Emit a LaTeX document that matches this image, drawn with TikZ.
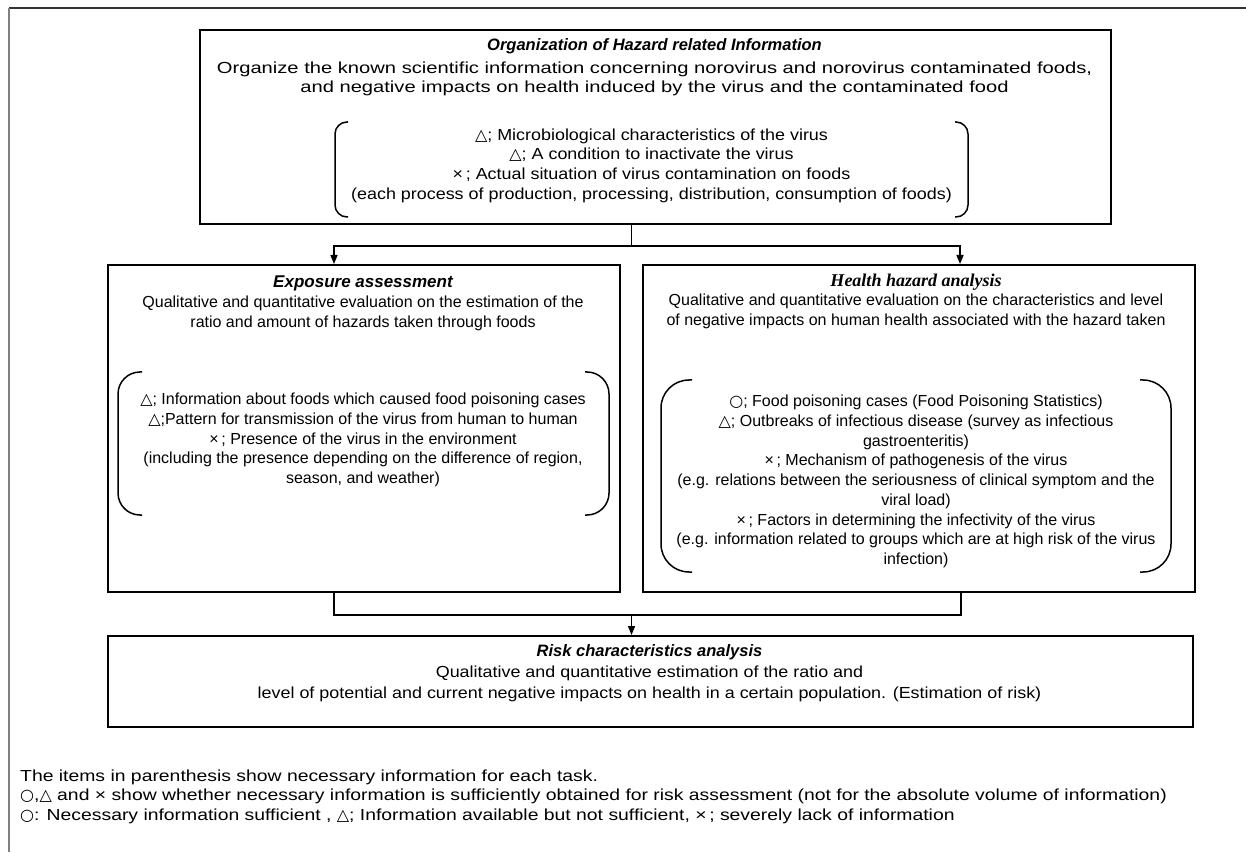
\documentclass[tikz,border=0pt]{standalone}
\usepackage{fontspec}
\setmainfont{Liberation Sans}
\newfontfamily\titleserif{Liberation Serif}
\newfontfamily\wideA[FakeStretch=1.26]{Liberation Sans}
\newfontfamily\wideB[FakeStretch=1.12]{Liberation Sans}
\newfontfamily\wideC[FakeStretch=1.21]{Liberation Sans}
\newfontfamily\symfont{DejaVu Sans}
\usetikzlibrary{arrows.meta, positioning, calc}
\newcommand{\tri}{{\symfont\fontsize{16}{16}\selectfont △}}
\newcommand{\crc}{{\symfont\fontsize{16}{16}\selectfont ○}}
\newcommand{\crs}{×\,}

\begin{document}
\begin{tikzpicture}[
  x=1pt, y=1pt,
  box/.style={draw=black, line width=2pt, inner sep=0pt, anchor=north west},
  ttl/.style={font=\fontsize{16}{18}\selectfont\bfseries\itshape, inner sep=0pt},
  txt/.style={font=\fontsize{16}{19.7}\selectfont, align=center, inner sep=0pt},
  note/.style={font=\wideC\fontsize{16}{20}\selectfont, anchor=west, inner sep=0pt},
  brk/.style={line width=1.5pt},
  lnk/.style={line width=1.5pt},
  arr/.style={lnk, -{Triangle[length=9pt, width=7pt]}}
]
\useasboundingbox (0,0) rectangle (1246,852);
% frame
\draw[line width=1.5pt, black!80] (9,844) -- (1246,844);
\draw[line width=1.5pt, black!50] (9,844) -- (9,0);

% boxes
\node[box, minimum width=911pt, minimum height=194pt] (org) at (199,823) {};
\node[box, minimum width=512pt, minimum height=327pt] (expo) at (107,588) {};
\node[box, minimum width=552pt, minimum height=327pt, right=21pt of expo.north east, anchor=north west] (haz) {};
\node[box, minimum width=1085pt, minimum height=91pt, below=42pt of expo.south west, anchor=north west] (risk) {};

% hazard information
\node[ttl, font=\fontsize{16.5}{18}\selectfont\bfseries\itshape] (orgT) at (654.5,806) {Organization of Hazard related Information};
\node[txt, font=\wideA\fontsize{16}{19.7}\selectfont] (orgD) at (654.5,773) {Organize the known scientific information concerning norovirus and norovirus contaminated foods,\\
  and negative impacts on health induced by the virus and the contaminated food};
\node[txt, font=\wideB\fontsize{16}{19.7}\selectfont] (orgI) at (651.5,686.5) {\tri; Microbiological characteristics of the virus\\
  \tri; A condition to inactivate the virus\\
  \crs; Actual situation of virus contamination on foods\\
  (each process of production, processing, distribution, consumption of foods)};
\draw[brk, rounded corners=12pt] (348,730) -- (335,730) -- (335,635) -- (348,635);
\draw[brk, rounded corners=12pt] (955,730) -- (968,730) -- (968,635) -- (955,635);

% exposure
\node[ttl, font=\fontsize{17}{18}\selectfont\bfseries\itshape] (expoT) at (363,569) {Exposure assessment};
\node[txt] (expoD) at (363,538.5) {Qualitative and quantitative evaluation on the estimation of the\\
  ratio and amount of hazards taken through foods};
\node[txt] (expoI) at (363,412) {\tri; Information about foods which caused food poisoning cases\\
  \tri;Pattern for transmission of the virus from human to human\\
  \crs; Presence of the virus in the environment\\
  (including the presence depending on the difference of region,\\
  season, and weather)};
\draw[brk, rounded corners=22pt] (142,480) -- (118,480) -- (118,337) -- (142,337);
\draw[brk, rounded corners=22pt] (585,480) -- (609,480) -- (609,337) -- (585,337);

% health hazard
\node[ttl, font=\titleserif\fontsize{18}{18}\selectfont\bfseries\itshape] (hazT) at (916,570) {Health hazard analysis};
\node[txt] (hazD) at (916,540.5) {Qualitative and quantitative evaluation on the characteristics and level\\
  of negative impacts on human health associated with the hazard taken};
\node[txt] (hazI) at (916,370.5) {\crc; Food poisoning cases (Food Poisoning Statistics)\\
  \tri; Outbreaks of infectious disease (survey as infectious\\
  gastroenteritis)\\
  \crs; Mechanism of pathogenesis of the virus\\
  (e.g. relations between the seriousness of clinical symptom and the\\
  viral load)\\
  \crs; Factors in determining the infectivity of the virus\\
  (e.g. information related to groups which are at high risk of the virus\\
  infection)};
\draw[brk, rounded corners=28pt] (692,472) -- (661,472) -- (661,280) -- (692,280);
\draw[brk, rounded corners=28pt] (1140,472) -- (1171,472) -- (1171,280) -- (1140,280);

% risk
\node[ttl, font=\fontsize{16.5}{18}\selectfont\bfseries\itshape] (riskT) at (649.5,200) {Risk characteristics analysis};
\node[txt, font=\wideB\fontsize{16}{21}\selectfont] (riskD) at (649.5,168) {Qualitative and quantitative estimation of the ratio and\\
  level of potential and current negative impacts on health in a certain population. (Estimation of risk)};

% connectors
\coordinate (gap) at ($(expo.north east)!.5!(haz.north west)$);
\draw[lnk] (org.south -| gap) -- ++(0,-21) coordinate (fork);
\draw[arr] (fork) -| ([xshift=-30pt]expo.north);
\draw[arr] (fork) -| ([xshift=41pt]haz.north);
\draw[lnk] ([xshift=-30pt]expo.south) -- ++(0,-22) coordinate (join) -| ([xshift=42pt]haz.south);
\draw[arr] (join -| gap) -- (risk.north -| gap);

% legend
\node[note] (n1) at (20,75) {The items in parenthesis show necessary information for each task.};
\node[note] (n2) at (20,55.5) {\crc,\tri\ and × show whether necessary information is sufficiently obtained for risk assessment (not for the absolute volume of information)};
\node[note] (n3) at (20,36) {\crc: Necessary information sufficient , \tri; Information available but not sufficient, \crs; severely lack of information};
\end{tikzpicture}
\end{document}
